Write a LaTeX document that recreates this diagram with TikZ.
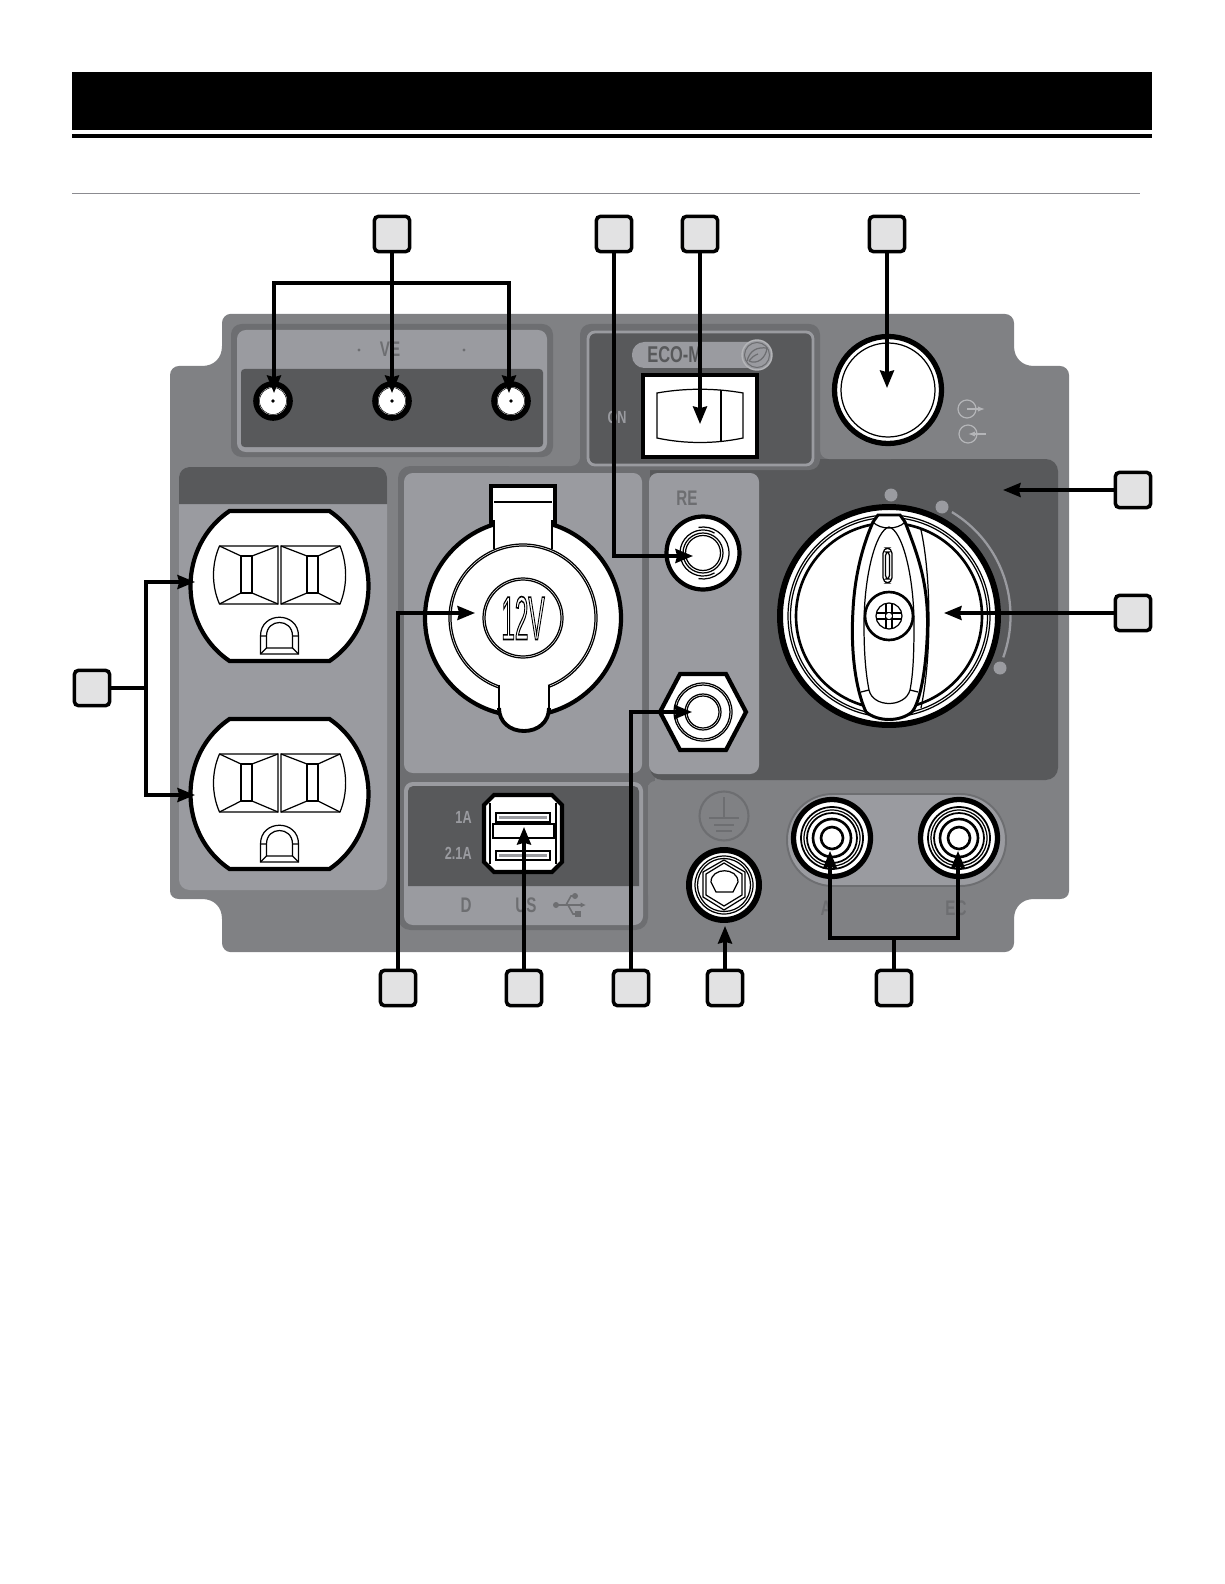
\documentclass[tikz,border=0pt]{standalone}
\usepackage{fontspec}
\usetikzlibrary{arrows.meta,shadows}
\newfontfamily\panelfont[FakeStretch=0.72]{Liberation Sans}
\definecolor{panelgray}{HTML}{808184}
\definecolor{lightgray}{HTML}{9A9BA0}
\definecolor{midgray}{HTML}{6D6E71}
\definecolor{darkgray}{HTML}{58595B}
\definecolor{palegray}{HTML}{B4B5B8}
\definecolor{boxgray}{HTML}{E2E2E3}
\tikzset{
	x=0.02cm, y=-0.02cm,
	heavy/.style={draw=black, fill=white, line width=2.4pt},
	fine/.style={draw=black, line width=0.7pt},
	callbox/.style={draw=black, fill=boxgray, line width=2pt, rounded corners=2.2pt, minimum size=20pt, inner sep=0pt, drop shadow={shadow xshift=0.6pt, shadow yshift=-0.8pt, opacity=0.35}},
	pointer/.style={draw=black, line width=1.8pt, ->, >={Stealth[length=10pt,width=8pt,inset=1pt]}},
	leader/.style={draw=black, line width=1.8pt},
	paneltext/.style={font=\panelfont\bfseries\fontsize{12}{12}\selectfont, text=midgray, inner sep=0pt},
	smalltext/.style={font=\panelfont\bfseries\fontsize{10}{10}\selectfont, text=lightgray, inner sep=0pt}
}
\begin{document}
\begin{tikzpicture}
	\useasboundingbox (0,0) rectangle (1224,1584);
	%Kopf
	\fill[black] (72,72) rectangle (1152,130);
	\fill[black] (72,134) rectangle (1152,138);
	\draw[line width=1.1pt, color=lightgray!90!black] (72,193.5) -- (1140,193.5);
	
	%Grundplatte
	\fill[panelgray] (230,314) -- (1005,314) .. controls (1010,314) and (1014,318) .. (1014,323) -- (1014,346) .. controls (1014,358) and (1022,366) .. (1034,366) -- (1060,366) .. controls (1065,366) and (1069,370) .. (1069,375) -- (1069,891) .. controls (1069,896) and (1065,899) .. (1060,899) -- (1034,899) .. controls (1022,899) and (1014,907) .. (1014,919) -- (1014,943) .. controls (1014,948) and (1010,952) .. (1005,952) -- (230,952) .. controls (226,952) and (222,948) .. (222,943) -- (222,919) .. controls (222,907) and (214,899) .. (202,899) -- (179,899) .. controls (174,899) and (170,896) .. (170,891) -- (170,375) .. controls (170,370) and (174,366) .. (179,366) -- (202,366) .. controls (214,366) and (222,358) .. (222,346) -- (222,323) .. controls (222,318) and (226,314) .. (230,314) -- cycle;
	
	%Flaechen
	\fill[midgray, rounded corners=7pt] (398,466) rectangle (648,930);
	\fill[midgray] (560,455) rectangle (600,475);
	\fill[midgray] (640,466) rectangle (655,785);
	\fill[darkgray, rounded corners=7pt] (650,459) rectangle (1058,780);
	\fill[midgray] (815,445) rectangle (830,459);
	\fill[panelgray, rounded corners=5pt] (820,400) rectangle (900,459);
	\fill[panelgray, rounded corners=5pt] (500,440) rectangle (580,466);
	\fill[panelgray, rounded corners=4pt] (648,781) rectangle (1000,900);
	\fill[midgray, rounded corners=6pt] (580,324) rectangle (820,470);
	\draw[line width=1.6pt, color=lightgray, fill=darkgray, rounded corners=4pt] (588,332) rectangle (813,465);
	
	%Entluftung
	\fill[midgray, rounded corners=6pt] (231,324) rectangle (553,457);
	\fill[lightgray, rounded corners=5pt] (237,330) rectangle (547,452);
	\fill[darkgray, rounded corners=2pt] (241,369) rectangle (543,447);
	\node[paneltext] (ventText) at (390,349) {VE};
	\fill[midgray] (359,350) circle (1.7);
	\fill[midgray] (464,350) circle (1.7);
	\foreach \ventX in {273,392,511}{
		\draw[draw=black, fill=white, line width=3.2pt] (\ventX,401) circle (17);
		\draw[line width=0.3pt, draw=black] (\ventX,401) circle (13.5);
		\fill[black] (\ventX,401) circle (1.8);
	}
	
	%Steckdosen
	\fill[lightgray, rounded corners=6pt] (179,467) rectangle (387,890);
	\fill[darkgray] (179,504) [rounded corners=6pt] -- (179,467) -- (387,467) [sharp corners] -- (387,504) -- cycle;
	\foreach \outletY in {586,794}{
		\begin{scope}[shift={(279.5,\outletY)}]
			\draw[heavy] (-50,-75) -- (50,-75) .. controls (75,-58) and (89,-30) .. (89,0) .. controls (89,30) and (75,58) .. (50,75) -- (-50,75) .. controls (-75,58) and (-89,30) .. (-89,0) .. controls (-89,-30) and (-75,-58) .. (-50,-75) -- cycle;
			\draw[fine] (-60,-40) -- (-1.5,-40) -- (-1.5,18) -- (-60,18) .. controls (-68,0) and (-68,-22) .. (-60,-40) -- cycle;
			\draw[fine] (-38.5,-30) rectangle (-27.5,7);
			\draw[fine] (-60,-40) -- (-38.5,-30) (-1.5,-40) -- (-27.5,-30) (-60,18) -- (-38.5,7) (-1.5,18) -- (-27.5,7);
			\draw[fine] (1.5,-40) -- (60.5,-40) .. controls (68,-22) and (68,0) .. (60.5,18) -- (1.5,18) -- cycle;
			\draw[fine] (27.5,-30) rectangle (38.5,7);
			\draw[fine] (1.5,-40) -- (27.5,-30) (60.5,-40) -- (38.5,-30) (1.5,18) -- (27.5,7) (60.5,18) -- (38.5,7);
			\draw[fine] (-19,68) -- (-19,50) .. controls (-19,25) and (19,25) .. (19,50) -- (19,68) -- cycle;
			\draw[fine] (-13,62) -- (-13,50) .. controls (-13,32) and (13,32) .. (13,50) -- (13,62) -- cycle;
			\draw[fine] (-19,68) -- (-13,62) (19,68) -- (13,62) (-19,50) -- (-13,50) (19,50) -- (13,50);
		\end{scope}
	}
	
	%12V Dose
	\fill[lightgray, rounded corners=5pt] (404,473) rectangle (642,773);
	\draw[heavy] (523,618) circle (98);
	\draw[heavy] (491,525) -- (491,486) -- (555,486) -- (555,525);
	\fill[white] (494,489) rectangle (552,560);
	\draw[fine] (494,502) -- (552,502);
	\draw[fine] (494,520) -- (494,549);
	\draw[fine] (552,520) -- (552,549);
	\draw[fine, fill=white] (523,618) circle (74);
	\draw[fine] (523,618) circle (72);
	\draw[fine] (523,618) circle (40);
	\draw[fine] (523,618) circle (38);
	\node[inner sep=0pt] (socketText) at (523,618) {\panelfont\fontsize{35}{35}\selectfont\scalebox{0.55}[1]{\special{pdf:code 1 Tr 0.9 w}12V\special{pdf:code 0 Tr}}};
	\fill[white] (499,685) -- (549,685) -- (549,708) .. controls (549,722) and (538,731) .. (524,731) .. controls (510,731) and (499,722) .. (499,708) -- cycle;
	\draw[fine] (499,685) -- (499,708);
	\draw[fine] (549,685) -- (549,708);
	\draw[black, line width=2.2pt] (499,708) .. controls (499,722) and (510,731) .. (524,731) .. controls (538,731) and (549,722) .. (549,708);
	
	%USB
	\fill[lightgray, rounded corners=5pt] (404,782) rectangle (643,925);
	\fill[darkgray] (408,886) [rounded corners=3pt] -- (408,786) -- (639,786) [sharp corners] -- (639,886) -- cycle;
	\draw[heavy] (494,795) -- (552,795) -- (562,805) -- (562,862) -- (552,872) -- (494,872) -- (484,862) -- (484,805) -- cycle;
	\draw[fine] (490,803) -- (490,864);
	\draw[fine] (556,803) -- (556,864);
	\draw[black, line width=1pt, fill=white] (496,813) rectangle (550,822);
	\draw[black, line width=1pt, fill=white] (496,851) rectangle (550,860);
	\fill[lightgray] (499,816) rectangle (547,819);
	\fill[lightgray] (499,854) rectangle (547,857);
	\draw[fine, fill=white] (493,824) rectangle (554,838);
	\node[smalltext, anchor=east] (usbA) at (472,817) {1A};
	\node[smalltext, anchor=east] (usbB) at (472,853) {2.1A};
	\node[paneltext] (usbD) at (466,905) {D};
	\node[paneltext] (usbS) at (526,905) {US};
	\draw[midgray, line width=0.9pt, -{Latex[length=3pt,width=3pt]}] (556,905) -- (586,905);
	\draw[midgray, line width=0.9pt] (566,905) -- (571,896) -- (575,896);
	\draw[midgray, line width=0.9pt] (568,905) -- (573,914) -- (577,914);
	\fill[midgray] (556,905) circle (3);
	\fill[midgray] (575,896) circle (3);
	\fill[midgray] (575,911) rectangle (581,917);
	
	%Oeko
	\fill[lightgray, rounded corners=7pt] (632,342) rectangle (768,368);
	\node[paneltext, anchor=west, text=darkgray, font=\panelfont\bfseries\fontsize{13}{13}\selectfont] (ecoText) at (647,355) {ECO-M};
	\draw[line width=0.8pt, color=palegray, fill=lightgray] (757,355) circle (15);
	\draw[line width=0.6pt, color=midgray] (757,355) circle (12.5);
	\draw[line width=0.7pt, color=midgray] (747,361) .. controls (750,350) and (757,347) .. (767,348) .. controls (766,358) and (757,365) .. (749,361) (749,361) .. controls (752,357) and (755,355) .. (758,354);
	\node[smalltext] (onText) at (617,417) {ON};
	\draw[draw=black, fill=white, line width=2.8pt] (643,375) rectangle (757,457);
	\draw[fine] (657,393) .. controls (685,388) and (715,388) .. (743,393) -- (743,438) .. controls (715,444) and (685,444) .. (657,438) -- cycle;
	\draw[fine] (721,390) -- (721,441);
	
	%Luefter
	\draw[draw=black, fill=white, line width=3pt] (888,390) circle (53.5);
	\draw[fine] (888,390) circle (47);
	\draw[line width=0.7pt, color=palegray] (967,409) circle (9);
	\draw[line width=0.7pt, color=palegray, -{Latex[length=4pt,width=3pt]}] (967,409) -- (985,409);
	\draw[line width=0.7pt, color=palegray] (968,434) circle (9);
	\draw[line width=0.7pt, color=palegray, -{Latex[length=4pt,width=3pt]}] (986,434) -- (968,434);
	
	%Anzeige Drehknopf
	\fill[lightgray] (891,495) circle (6.5);
	\fill[lightgray] (942,507) circle (6.5);
	\fill[lightgray] (1000,668) circle (6.5);
	\draw[line width=1.3pt, color=lightgray] (889,616) ++(-58.8:121.5) arc[start angle=-58.8, end angle=19.9, radius=121.5];
	
	%Drehknopf
	\draw[draw=black, fill=white, line width=3.4pt] (889,616) circle (109);
	\draw[fine] (889,616) circle (101);
	\draw[fine] (889,616) circle (98.5);
	\draw[black, line width=1.5pt] (889,616) circle (93);
	\draw[heavy, line width=1.7pt] (873,522) -- (878,515) -- (900,515) -- (905,522) .. controls (920,560) and (930,590) .. (927,640) .. controls (925,680) and (918,705) .. (912,712) .. controls (900,722) and (878,722) .. (866,712) .. controls (858,695) and (850,660) .. (853,610) .. controls (855,570) and (865,540) .. (873,522) -- cycle;
	\draw[fine, fill=white] (889,527) .. controls (902,530) and (914,575) .. (914,625) .. controls (914,655) and (913,675) .. (910,690) .. controls (905,708) and (873,708) .. (869,690) .. controls (866,675) and (864,655) .. (864,625) .. controls (864,575) and (876,530) .. (889,527) -- cycle;
	\draw[fine] (873,522) .. controls (880,530) and (898,530) .. (905,522);
	\draw[fine] (861,692) -- (869,690);
	\draw[fine] (918,692) -- (910,690);
	\draw[fine] (921,530) .. controls (930,570) and (933,650) .. (921,708);
	\draw[fine, rounded corners=3pt] (883,548) rectangle (892,583);
	\draw[fine, rounded corners=2pt] (885.5,552) rectangle (889.5,579);
	\draw[black, line width=1.5pt, fill=white] (889,616) circle (24);
	\draw[fine] (889,616) circle (13);
	\draw[fine] (886,604) -- (886,628) (892,604) -- (892,628) (877,613) -- (901,613) (877,619) -- (901,619);
	\fill[white] (889,616) circle (3);
	
	%Reset
	\fill[lightgray, rounded corners=5pt] (649,473) rectangle (759,774);
	\node[paneltext] (resetText) at (687,498) {RE};
	\draw[heavy] (703,553) circle (36.5);
	\draw[fine] (703,553) circle (17.5);
	\draw[fine] (703,553) circle (20);
	\draw[fine] (703,553) ++(-100:26) arc[start angle=-100, end angle=100, radius=26];
	\draw[fine] (703,553) ++(60:23) arc[start angle=60, end angle=300, radius=23];
	
	%Sechskant
	\draw[heavy] (680,674) -- (726,674) -- (746,712) -- (726,750) -- (680,750) -- (660,712) -- cycle;
	\draw[fine] (703,712) circle (29);
	\draw[fine] (703,712) circle (27);
	\draw[fine] (703,712) circle (18);
	\draw[fine] (703,712) circle (16);
	
	%Erdung
	\draw[line width=1.2pt, color=midgray, fill=panelgray] (724,816) circle (24.5);
	\draw[line width=1.1pt, color=midgray] (724,797) -- (724,818) (709,818) -- (739,818) (714,825) -- (734,825) (716,831) -- (732,831);
	\draw[draw=black, fill=white, line width=3.4pt] (724,885) circle (35);
	\draw[fine] (724,885) circle (29);
	\draw[fine] (724,885) circle (26.5);
	\draw[fine] (724,860) -- (745,872) -- (745,897) -- (724,910) -- (703,897) -- (703,872) -- cycle;
	\draw[fine] (724,863) -- (742,874) -- (742,895) -- (724,906) -- (706,895) -- (706,874) -- cycle;
	\draw[fine] (716,892) -- (711,882) .. controls (711,867) and (738,867) .. (738,882) -- (733,892) -- cycle;
	
	%Anschluesse
	\draw[line width=1.1pt, color=midgray, fill=lightgray, rounded corners=26pt] (787,794) rectangle (1006,886);
	\foreach \termX in {832,959}{
		\draw[draw=black, fill=white, line width=3pt] (\termX,838) circle (38.5);
		\draw[black, line width=1pt] (\termX,838) circle (31);
		\draw[black, line width=0.7pt] (\termX,838) circle (28);
		\draw[black, line width=1pt] (\termX,838) circle (25);
		\draw[black, line width=1.5pt] (\termX,838) circle (19);
		\draw[black, line width=1.5pt] (\termX,838) circle (11);
	}
	\node[paneltext] (acText) at (826,908) {A};
	\node[paneltext] (dcText) at (956,908) {EC};
	
	%Kaestchen
	\node[callbox] (boxVent) at (392,234) {};
	\node[callbox] (boxReset) at (614,234) {};
	\node[callbox] (boxEco) at (700,234) {};
	\node[callbox] (boxFan) at (887,234) {};
	\node[callbox] (boxPanel) at (1133,490) {};
	\node[callbox] (boxKnob) at (1133,613) {};
	\node[callbox] (boxOutlet) at (92,688) {};
	\node[callbox] (boxSocket) at (398,988) {};
	\node[callbox] (boxUsb) at (524,988) {};
	\node[callbox] (boxHex) at (631,988) {};
	\node[callbox] (boxEarth) at (725,988) {};
	\node[callbox] (boxTerm) at (894,988) {};
	
	%Pfeilenden
	\coordinate (ventJoint) at (392,283);
	\coordinate (ventA) at (274,393);
	\coordinate (ventB) at (392,393);
	\coordinate (ventC) at (509,393);
	\coordinate (tipReset) at (693,556);
	\coordinate (tipEco) at (700,424);
	\coordinate (tipFan) at (887,388);
	\coordinate (tipPanel) at (1003,490);
	\coordinate (tipKnob) at (944,613);
	\coordinate (outletJoint) at (146,688);
	\coordinate (outletA) at (195,582);
	\coordinate (outletB) at (195,795);
	\coordinate (tipSocket) at (475,613);
	\coordinate (tipUsb) at (524,827);
	\coordinate (tipHex) at (692,712);
	\coordinate (tipEarth) at (725,926);
	\coordinate (termJoint) at (894,938);
	\coordinate (termA) at (830,851);
	\coordinate (termB) at (958,851);
	
	%Pfeile
	\draw[pointer] (boxVent) -- (ventB);
	\draw[pointer] (ventJoint) -| (ventA);
	\draw[pointer] (ventJoint) -| (ventC);
	\draw[pointer] (boxReset.south) |- (tipReset);
	\draw[pointer] (boxEco) -- (tipEco);
	\draw[pointer] (boxFan) -- (tipFan);
	\draw[pointer] (boxPanel) -- (tipPanel);
	\draw[pointer] (boxKnob) -- (tipKnob);
	\draw[leader] (boxOutlet) -- (outletJoint);
	\draw[pointer] (outletJoint) |- (outletA);
	\draw[pointer] (outletJoint) |- (outletB);
	\draw[pointer] (boxSocket.north) |- (tipSocket);
	\draw[pointer] (boxUsb) -- (tipUsb);
	\draw[pointer] (boxHex.north) |- (tipHex);
	\draw[pointer] (boxEarth) -- (tipEarth);
	\draw[leader] (boxTerm) -- (termJoint);
	\draw[pointer] (termJoint) -| (termA);
	\draw[pointer] (termJoint) -| (termB);
\end{tikzpicture}
\end{document}
